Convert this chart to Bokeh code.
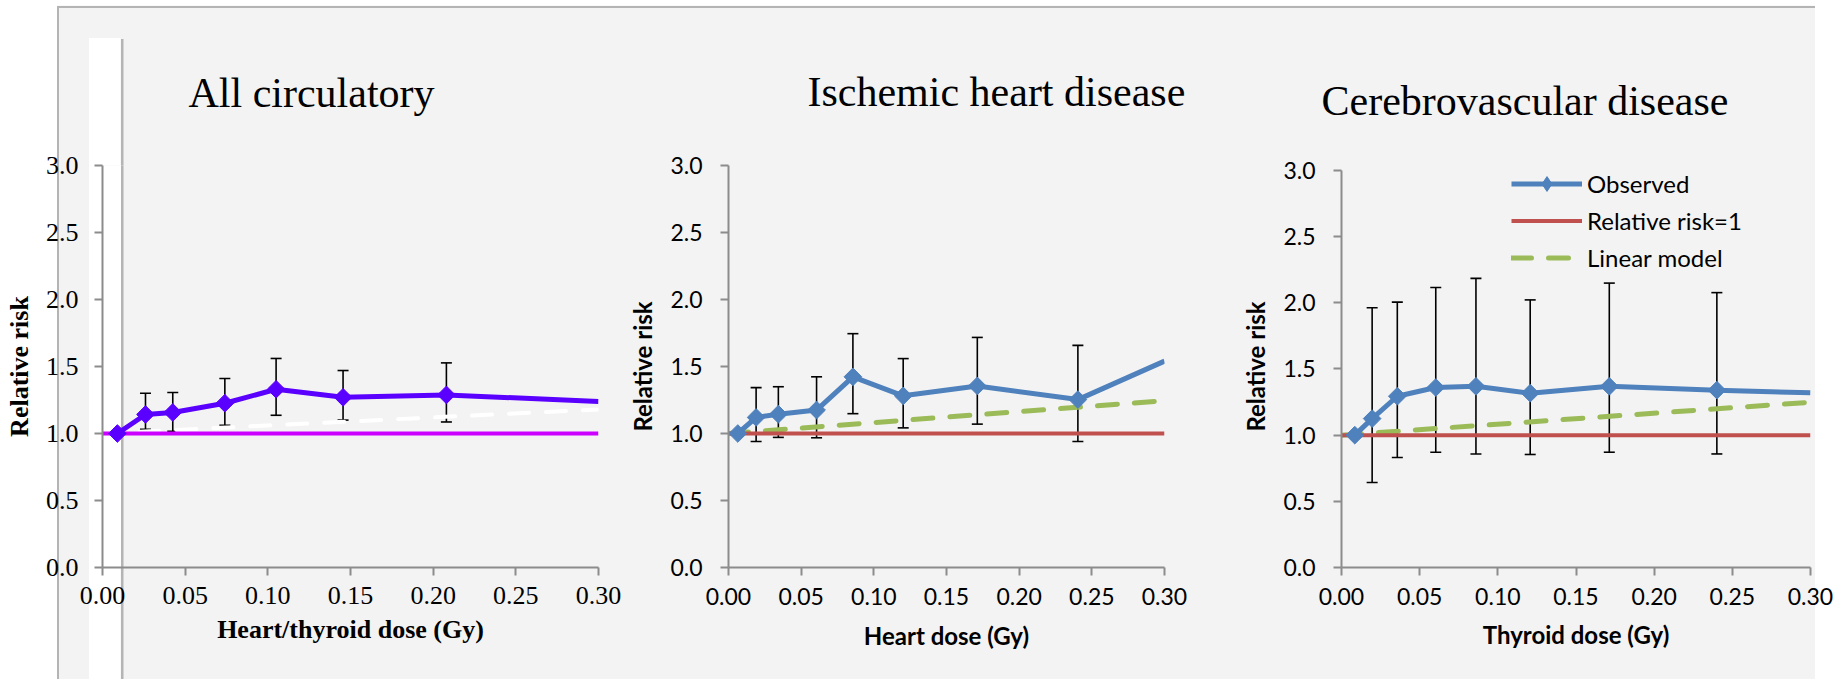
import math
from bokeh.plotting import figure
from bokeh.layouts import row
from bokeh.models import (ColumnDataSource, Range1d, FixedTicker, NumeralTickFormatter,
                          Whisker, TeeHead, BoxAnnotation, Legend, LegendItem)
from bokeh.embed import file_html
from bokeh.resources import INLINE

# ---------------- data ----------------
x_ticks = [0.00, 0.05, 0.10, 0.15, 0.20, 0.25, 0.30]
y_ticks = [0.0, 0.5, 1.0, 1.5, 2.0, 2.5, 3.0]

titles = ["All circulatory", "Ischemic heart disease", "Cerebrovascular disease"]
x_labels = ["Heart/thyroid dose (Gy)", "Heart dose (Gy)", "Thyroid dose (Gy)"]
y_label = "Relative risk"
legend_labels = ["Observed", "Relative risk=1", "Linear model"]

# All circulatory
circ_dose = [0.009, 0.026, 0.0425, 0.074, 0.105, 0.1455, 0.208]
circ_rr = [1.00, 1.142, 1.157, 1.226, 1.330, 1.270, 1.288]
circ_edge = [0.30, 1.238]
circ_err_dose = [0.026, 0.0425, 0.074, 0.105, 0.1455, 0.208]
circ_lower = [1.032, 1.017, 1.062, 1.136, 1.100, 1.086]
circ_upper = [1.300, 1.306, 1.411, 1.560, 1.470, 1.527]
circ_lin = [1.00, 1.18]

# Ischemic heart disease
ihd_dose = [0.0064, 0.019, 0.0343, 0.0606, 0.0856, 0.1202, 0.1712, 0.2404]
ihd_rr = [1.00, 1.120, 1.144, 1.175, 1.423, 1.281, 1.355, 1.253]
ihd_edge = [0.30, 1.540]
ihd_err_dose = [0.019, 0.0343, 0.0606, 0.0856, 0.1202, 0.1712, 0.2404]
ihd_lower = [0.940, 0.971, 0.968, 1.148, 1.042, 1.070, 0.940]
ihd_upper = [1.342, 1.349, 1.423, 1.745, 1.559, 1.717, 1.658]
ihd_lin = [1.00, 1.245]

# Cerebrovascular disease
cvd_dose = [0.0085, 0.0196, 0.0357, 0.0603, 0.086, 0.1207, 0.1713, 0.2401]
cvd_rr = [1.00, 1.125, 1.294, 1.360, 1.369, 1.317, 1.369, 1.340]
cvd_edge = [0.30, 1.320]
cvd_err_dose = [0.0196, 0.0357, 0.0603, 0.086, 0.1207, 0.1713, 0.2401]
cvd_lower = [0.642, 0.831, 0.871, 0.858, 0.854, 0.871, 0.858]
cvd_upper = [1.963, 2.005, 2.116, 2.185, 2.022, 2.149, 2.077]
cvd_lin = [1.00, 1.249]

lin_dose = [0.00, 0.30]
ref_dose = [0.00, 0.30]
ref_rr = [1.0, 1.0]

# ---------------- style ----------------
BG = "#f3f3f3"
EDGE = "#b4b4b4"
AXIS = "#8c8c8c"
H = 679


def css_background(layers):
    parts = [f"linear-gradient({c},{c}) {x}px {y}px / {w}px {h}px no-repeat"
             for (x, y, w, h, c) in layers]
    return ", ".join(parts + [BG])


def box(p, l, r, t, b, color):
    # only the part that falls inside the plot frame is painted here
    p.add_layout(BoxAnnotation(left=l, right=r, top=t, bottom=b,
                               left_units="canvas", right_units="canvas",
                               top_units="canvas", bottom_units="canvas",
                               fill_color=color, fill_alpha=1.0, line_color=None,
                               level="underlay"))


def panel(width, borders, y_end, title, title_off, title_standoff, xlab,
          dose, rr, edge, err_x, lo, up, lin,
          obs_color, ref_color, lin_color, lin_width, tick_font, tick_size,
          lab_font, lab_size, stand, layers, frame_boxes):
    bl, br, bt, bb = borders
    p = figure(width=width, height=H, output_backend="svg", toolbar_location=None,
               x_range=Range1d(0, 0.30), y_range=Range1d(0, y_end),
               min_border_left=bl, min_border_right=br, min_border_top=bt,
               min_border_bottom=bb, background_fill_color=BG, border_fill_color=None,
               outline_line_color=None, styles={"background": css_background(layers)})
    p.grid.visible = False
    for (l, r, t, b, c) in frame_boxes:
        box(p, l, r, t, b, c)

    p.title.text = title
    p.title.text_font = "Liberation Serif"
    p.title.text_font_size = "42px"
    p.title.text_font_style = "normal"
    p.title.text_color = "#000000"
    p.title.align = "left"
    p.title.offset = title_off
    p.title.standoff = title_standoff

    p.xaxis.ticker = FixedTicker(ticks=x_ticks)
    p.yaxis.ticker = FixedTicker(ticks=y_ticks)
    p.yaxis.bounds = (0, 3.0)
    p.xaxis.formatter = NumeralTickFormatter(format="0.00")
    p.yaxis.formatter = NumeralTickFormatter(format="0.0")
    for ax in (p.xaxis[0], p.yaxis[0]):
        ax.axis_line_color = AXIS
        ax.axis_line_width = 2
        ax.major_tick_line_color = AXIS
        ax.major_tick_line_width = 2
        ax.major_tick_out = 8
        ax.major_tick_in = 0
        ax.minor_tick_line_color = None
        ax.major_label_text_font = tick_font
        ax.major_label_text_font_size = f"{tick_size}px"
        ax.major_label_text_color = "#000000"
        ax.axis_label_text_font = lab_font
        ax.axis_label_text_font_size = f"{lab_size}px"
        ax.axis_label_text_font_style = "bold"
        ax.axis_label_text_color = "#000000"
    p.xaxis.axis_label = xlab
    p.yaxis.axis_label = y_label
    xs1, xs2, ys1, ys2 = stand
    p.xaxis.major_label_standoff = xs1
    p.xaxis.axis_label_standoff = xs2
    p.yaxis.major_label_standoff = ys1
    p.yaxis.axis_label_standoff = ys2

    lin_r = p.line(lin_dose, lin, line_color=lin_color, line_width=lin_width,
                   line_dash="20 17", line_cap="round")
    ref_r = p.line(ref_dose, ref_rr, line_color=ref_color, line_width=4)
    src = ColumnDataSource(dict(x=err_x, lower=lo, upper=up))
    p.add_layout(Whisker(source=src, base="x", lower="lower", upper="upper",
                         dimension="height", line_color="black", line_width=1.6,
                         upper_head=TeeHead(size=11, line_color="black", line_width=1.6),
                         lower_head=TeeHead(size=11, line_color="black", line_width=1.6),
                         level="underlay"))
    obs_r = p.line(list(dose) + [edge[0]], list(rr) + [edge[1]],
                   line_color=obs_color, line_width=5)
    p.scatter(dose, rr, marker="square", angle=math.pi / 4, size=12.5,
              fill_color=obs_color, line_color=obs_color)
    return p, obs_r, ref_r, lin_r


# panel 1 : canvas x 0..625
p1, *_ = panel(625, (102, 27, 155, 89), 3.0, titles[0], 86, 99, x_labels[0],
               circ_dose, circ_rr, circ_edge, circ_err_dose, circ_lower, circ_upper, circ_lin,
               "#5a00ff", "#cc00ff", "#ffffff", 4,
               "Liberation Serif", 26, "Liberation Serif", 26, (11, 8, 16, 9),
               [(89, 37.5, 31.5, 641.5, "#ffffff"), (120.5, 38.5, 2.5, 640.5, EDGE),
                (57, 5.5, 568, 2, EDGE), (57, 5.5, 2, 673.5, EDGE),
                (0, 0, 57, 679, "#ffffff"), (0, 0, 625, 5.5, "#ffffff")],
               [(89, 120.5, 37.5, 679, "#ffffff"), (120.5, 123, 38.5, 679, EDGE)])

# panel 2 : canvas x 625..1215
p2, *_ = panel(590, (97, 51, 165, 94), 3.0, titles[1], 79, 101, x_labels[1],
               ihd_dose, ihd_rr, ihd_edge, ihd_err_dose, ihd_lower, ihd_upper, ihd_lin,
               "#4f81bd", "#c0504d", "#9bbb59", 5,
               "Lato", 23, "Lato", 24, (12, 13, 18, 10),
               [(0, 5.5, 590, 2, EDGE), (0, 0, 590, 5.5, "#ffffff")], [])

# panel 3 : canvas x 1215..1846 (frame reaches just above 3.0 to hold the legend)
p3, obs_r, ref_r, lin_r = panel(
    631, (126, 36, 163, 112), 3.0376, titles[2], -20, 83, x_labels[2],
    cvd_dose, cvd_rr, cvd_edge, cvd_err_dose, cvd_lower, cvd_upper, cvd_lin,
    "#4f81bd", "#c0504d", "#9bbb59", 5,
    "Lato", 23, "Lato", 24, (12, 12, 18, 10),
    [(0, 5.5, 600, 2, EDGE), (0, 0, 600, 5.5, "#ffffff"), (600, 0, 31, 679, "#ffffff")], [])

# legend sample marker (diamond): a point with no position, only shown in the legend
legend_marker = p3.scatter(x=[float("nan")], y=[float("nan")], marker="diamond", size=18,
                           fill_color="#4f81bd", line_color="#4f81bd")

legend = Legend(items=[LegendItem(label=legend_labels[0], renderers=[obs_r, legend_marker]),
                       LegendItem(label=legend_labels[1], renderers=[ref_r]),
                       LegendItem(label=legend_labels[2], renderers=[lin_r])],
                location=(170, 291), glyph_width=71, glyph_height=37, label_height=37,
                spacing=0, padding=0, margin=0, label_standoff=5, label_text_font="Lato",
                label_text_font_size="24px", label_text_color="#000000",
                label_text_baseline="middle",
                border_line_color=None, background_fill_alpha=0)
p3.add_layout(legend, "center")

layout = row(p1, p2, p3)
open("out.html", "w").write(file_html(layout, INLINE))
